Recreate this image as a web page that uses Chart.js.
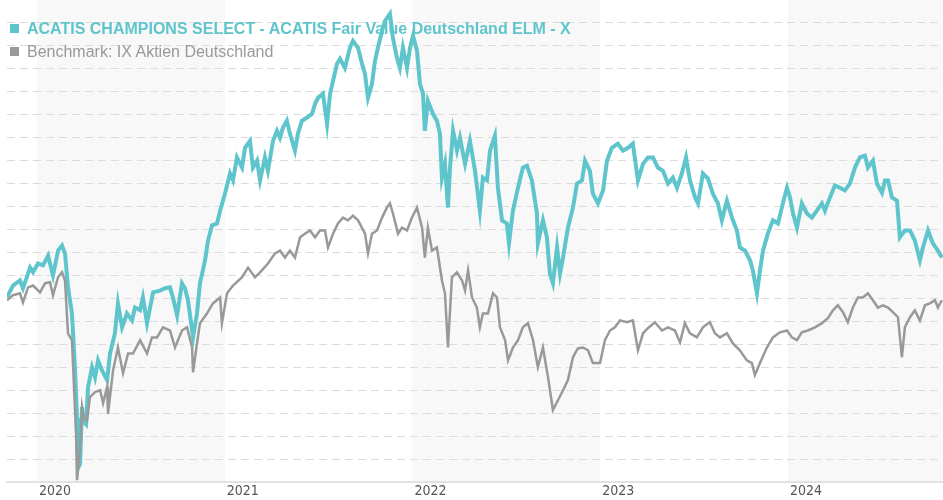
<!DOCTYPE html>
<html>
<head>
<meta charset="utf-8">
<title>ACATIS Fair Value Deutschland ELM - X</title>
<script src="https://cdn.jsdelivr.net/npm/chart.js@4.4.0/dist/chart.umd.min.js"></script>
<style>
  html, body { margin: 0; padding: 0; background: #fff; }
  #wrap { position: relative; width: 943px; height: 500px; }
  #legend { position: absolute; left: 0; top: 0; font-family: "Liberation Sans", Arial, sans-serif; font-size: 16px; line-height: 18px; pointer-events: none; }
  .item { position: absolute; left: 10px; white-space: nowrap; }
  .item .box { display: inline-block; width: 9px; height: 9px; margin-right: 8px; vertical-align: 1px; }
  .fund { top: 20px; color: #5ec5cc; font-weight: bold; }
  .fund .box { background: #5ec5cc; }
  .bench { top: 43px; color: #999; }
  .bench .box { background: #999; }
</style>
</head>
<body>
<div id="wrap">
  <canvas id="chart" width="943" height="500"></canvas>
  <div id="legend">
    <div class="item fund"><span class="box"></span>ACATIS CHAMPIONS SELECT - ACATIS Fair Value Deutschland ELM - X</div>
    <div class="item bench"><span class="box"></span>Benchmark: IX Aktien Deutschland</div>
  </div>
</div>
<script>
// values (time in fractional years, index level)
var fundYears = [2019.840, 2019.872, 2019.909, 2019.925, 2019.963, 2019.979, 2020.005, 2020.032, 2020.059, 2020.085,
  2020.112, 2020.133, 2020.149, 2020.165, 2020.186, 2020.202, 2020.213, 2020.218, 2020.229, 2020.240,
  2020.245, 2020.261, 2020.272, 2020.293, 2020.309, 2020.325, 2020.346, 2020.373, 2020.389, 2020.415,
  2020.431, 2020.453, 2020.479, 2020.506, 2020.522, 2020.549, 2020.564, 2020.586, 2020.618, 2020.655,
  2020.682, 2020.708, 2020.724, 2020.746, 2020.772, 2020.788, 2020.804, 2020.831, 2020.852, 2020.868,
  2020.895, 2020.911, 2020.932, 2020.959, 2020.975, 2021.001, 2021.028, 2021.044, 2021.065, 2021.092,
  2021.108, 2021.134, 2021.150, 2021.172, 2021.188, 2021.214, 2021.230, 2021.257, 2021.278, 2021.294,
  2021.310, 2021.331, 2021.347, 2021.374, 2021.390, 2021.411, 2021.438, 2021.465, 2021.481, 2021.497,
  2021.523, 2021.545, 2021.561, 2021.577, 2021.598, 2021.614, 2021.640, 2021.667, 2021.683, 2021.710,
  2021.731, 2021.747, 2021.763, 2021.784, 2021.800, 2021.816, 2021.838, 2021.853, 2021.880, 2021.896,
  2021.917, 2021.933, 2021.949, 2021.971, 2021.987, 2022.003, 2022.024, 2022.040, 2022.056, 2022.066,
  2022.082, 2022.109, 2022.130, 2022.146, 2022.157, 2022.173, 2022.189, 2022.200, 2022.216, 2022.237,
  2022.253, 2022.280, 2022.306, 2022.333, 2022.359, 2022.375, 2022.397, 2022.413, 2022.439, 2022.455,
  2022.477, 2022.503, 2022.514, 2022.535, 2022.562, 2022.588, 2022.610, 2022.636, 2022.663, 2022.668,
  2022.695, 2022.716, 2022.732, 2022.748, 2022.770, 2022.786, 2022.802, 2022.828, 2022.855, 2022.876,
  2022.903, 2022.919, 2022.945, 2022.961, 2022.988, 2023.015, 2023.036, 2023.062, 2023.094, 2023.121,
  2023.148, 2023.174, 2023.201, 2023.228, 2023.254, 2023.281, 2023.307, 2023.334, 2023.361, 2023.387,
  2023.409, 2023.435, 2023.457, 2023.478, 2023.505, 2023.521, 2023.547, 2023.574, 2023.600, 2023.627,
  2023.648, 2023.675, 2023.702, 2023.728, 2023.744, 2023.771, 2023.798, 2023.813, 2023.835, 2023.851,
  2023.867, 2023.893, 2023.920, 2023.947, 2023.973, 2023.995, 2024.011, 2024.027, 2024.048, 2024.074,
  2024.101, 2024.128, 2024.154, 2024.181, 2024.197, 2024.224, 2024.250, 2024.277, 2024.303, 2024.330,
  2024.357, 2024.383, 2024.410, 2024.426, 2024.453, 2024.474, 2024.501, 2024.517, 2024.533, 2024.554,
  2024.581, 2024.596, 2024.623, 2024.650, 2024.676, 2024.703, 2024.719, 2024.746, 2024.772, 2024.799,
  2024.820];
var fundValues = [100.2, 102.8, 103.9, 102.2, 106.7, 105.7, 107.6, 107.2, 109.3, 105.0,
  110.4, 111.5, 109.8, 102.4, 96.7, 85.0, 73.9, 63.0, 63.9, 76.3,
  73.3, 72.6, 80.7, 85.0, 82.8, 86.5, 84.3, 82.2, 88.0, 92.4,
  98.9, 93.7, 96.7, 95.2, 98.0, 97.4, 100.2, 94.6, 101.3, 101.7,
  102.2, 102.4, 100.2, 96.3, 103.3, 102.2, 99.6, 91.5, 96.7, 103.3,
  108.3, 112.6, 115.9, 116.3, 119.1, 122.8, 127.2, 125.7, 130.7, 128.5,
  132.8, 134.3, 128.5, 130.0, 125.7, 130.7, 127.8, 134.3, 136.5, 135.0,
  137.2, 138.7, 135.9, 132.2, 135.9, 138.7, 139.4, 140.2, 142.4, 143.7,
  144.6, 138.0, 144.6, 147.4, 151.1, 152.2, 150.2, 154.6, 156.1, 154.6,
  151.1, 148.9, 143.7, 146.7, 151.7, 154.6, 158.3, 160.4, 162.0, 156.7,
  152.4, 150.2, 154.6, 150.2, 154.6, 157.2, 153.9, 146.7, 144.6, 136.5,
  143.0, 140.2, 138.7, 135.9, 126.3, 129.3, 119.8, 128.5, 136.5, 132.2,
  135.0, 129.3, 134.3, 127.8, 119.1, 126.3, 125.7, 132.2, 135.4, 124.1,
  117.0, 116.3, 112.0, 119.1, 124.1, 128.5, 128.9, 125.7, 118.5, 112.0,
  117.0, 113.3, 105.4, 103.3, 111.1, 105.4, 108.9, 115.4, 119.8, 125.0,
  125.7, 130.0, 127.8, 122.8, 120.7, 123.5, 130.0, 132.8, 133.7, 132.2,
  132.8, 133.7, 125.7, 129.3, 130.7, 130.7, 128.5, 127.8, 125.0, 126.3,
  124.1, 127.2, 130.7, 125.7, 122.0, 120.7, 127.2, 126.1, 122.8, 120.7,
  117.0, 121.3, 117.6, 114.8, 111.1, 110.4, 108.3, 106.1, 101.1, 106.1,
  110.4, 114.1, 117.0, 116.3, 120.7, 124.1, 122.0, 118.5, 115.4, 120.7,
  118.5, 117.6, 119.1, 120.7, 119.1, 122.0, 124.6, 124.1, 123.5, 125.0,
  128.5, 130.7, 131.1, 128.5, 130.0, 125.0, 123.0, 125.7, 125.7, 122.0,
  121.3, 113.3, 114.8, 114.8, 112.6, 108.3, 111.1, 114.8, 112.0, 110.4,
  108.9];

var benchYears = [2019.840, 2019.872, 2019.909, 2019.925, 2019.952, 2019.979, 2020.016, 2020.043, 2020.069, 2020.085,
  2020.112, 2020.133, 2020.149, 2020.165, 2020.186, 2020.197, 2020.208, 2020.213, 2020.229, 2020.240,
  2020.250, 2020.266, 2020.282, 2020.309, 2020.336, 2020.352, 2020.373, 2020.378, 2020.405, 2020.431,
  2020.458, 2020.485, 2020.511, 2020.549, 2020.586, 2020.612, 2020.639, 2020.671, 2020.708, 2020.735,
  2020.772, 2020.799, 2020.826, 2020.831, 2020.852, 2020.868, 2020.905, 2020.937, 2020.975, 2020.985,
  2021.012, 2021.044, 2021.092, 2021.124, 2021.161, 2021.198, 2021.230, 2021.268, 2021.294, 2021.321,
  2021.347, 2021.374, 2021.401, 2021.427, 2021.454, 2021.481, 2021.507, 2021.534, 2021.550, 2021.577,
  2021.603, 2021.630, 2021.656, 2021.683, 2021.710, 2021.747, 2021.763, 2021.784, 2021.811, 2021.838,
  2021.864, 2021.880, 2021.896, 2021.923, 2021.944, 2021.971, 2021.997, 2022.024, 2022.051, 2022.066,
  2022.082, 2022.104, 2022.130, 2022.157, 2022.173, 2022.189, 2022.210, 2022.237, 2022.264, 2022.280,
  2022.296, 2022.317, 2022.343, 2022.359, 2022.375, 2022.402, 2022.429, 2022.450, 2022.466, 2022.493,
  2022.509, 2022.535, 2022.562, 2022.588, 2022.615, 2022.642, 2022.668, 2022.695, 2022.722, 2022.748,
  2022.775, 2022.802, 2022.828, 2022.855, 2022.881, 2022.908, 2022.935, 2022.961, 2022.999, 2023.025,
  2023.052, 2023.078, 2023.105, 2023.142, 2023.174, 2023.201, 2023.228, 2023.254, 2023.291, 2023.329,
  2023.361, 2023.398, 2023.425, 2023.451, 2023.478, 2023.515, 2023.547, 2023.584, 2023.611, 2023.638,
  2023.675, 2023.707, 2023.744, 2023.781, 2023.808, 2023.824, 2023.851, 2023.888, 2023.920, 2023.957,
  2023.995, 2024.021, 2024.048, 2024.074, 2024.106, 2024.144, 2024.181, 2024.213, 2024.240, 2024.266,
  2024.293, 2024.319, 2024.346, 2024.373, 2024.399, 2024.426, 2024.453, 2024.479, 2024.506, 2024.533,
  2024.559, 2024.586, 2024.607, 2024.623, 2024.650, 2024.676, 2024.703, 2024.730, 2024.756, 2024.783,
  2024.799, 2024.820];
var benchValues = [99.6, 100.7, 101.1, 99.1, 102.4, 102.8, 101.3, 103.3, 103.5, 100.7,
  104.6, 105.7, 103.9, 92.4, 90.9, 80.7, 70.4, 60.4, 67.4, 76.3,
  73.9, 73.3, 78.5, 79.6, 80.0, 77.2, 80.7, 74.8, 84.3, 89.3,
  83.7, 88.0, 88.0, 90.9, 88.0, 91.5, 91.5, 93.7, 93.0, 89.3,
  93.0, 93.7, 89.3, 83.9, 90.2, 94.6, 96.7, 98.9, 100.2, 94.6,
  101.1, 102.8, 104.6, 106.7, 104.6, 106.1, 107.6, 109.8, 110.4, 108.9,
  110.4, 108.9, 113.3, 114.1, 114.8, 113.3, 114.8, 114.8, 111.1, 114.1,
  116.3, 117.6, 117.0, 118.0, 117.0, 114.1, 109.8, 114.1, 114.8, 117.6,
  119.8, 120.7, 118.5, 114.1, 115.4, 114.8, 117.6, 119.8, 115.4, 108.9,
  115.4, 110.4, 111.1, 103.9, 101.1, 89.3, 104.6, 105.7, 103.9, 101.7,
  106.1, 100.2, 98.0, 93.7, 96.7, 96.7, 101.1, 100.2, 93.7, 90.9,
  86.5, 89.3, 90.9, 93.7, 94.6, 90.9, 85.0, 89.3, 82.8, 75.7,
  77.8, 80.0, 82.2, 87.2, 89.1, 89.3, 88.7, 85.9, 85.9, 90.9,
  93.0, 93.7, 95.2, 94.8, 95.2, 88.7, 92.4, 93.5, 94.8, 93.0,
  93.7, 93.0, 90.4, 94.6, 92.4, 91.5, 93.7, 94.8, 92.4, 91.5,
  92.4, 90.2, 88.7, 86.5, 85.9, 83.3, 85.9, 89.3, 91.5, 92.6,
  93.0, 91.5, 90.9, 92.6, 93.0, 93.7, 94.6, 95.7, 97.4, 98.5,
  97.0, 94.8, 98.0, 100.2, 100.2, 101.1, 99.6, 98.0, 98.5, 98.0,
  97.0, 95.9, 87.2, 93.7, 95.9, 97.4, 95.2, 98.5, 98.9, 99.6,
  98.0, 99.6];

var yearTicks = [2020, 2021, 2022, 2023, 2024];
var shadedYears = [2020, 2022, 2024];

function toPoints(xs, ys) {
  var pts = [];
  for (var i = 0; i < xs.length; i++) {
    pts.push({ x: xs[i], y: ys[i] });
  }
  return pts;
}

// alternating year bands behind the grid
var yearBands = {
  id: 'yearBands',
  beforeDraw: function (chart) {
    var ctx = chart.ctx;
    var area = chart.chartArea;
    var xs = chart.scales.x;
    ctx.save();
    ctx.fillStyle = '#f8f8f8';
    shadedYears.forEach(function (y) {
      var x1 = Math.max(area.left, xs.getPixelForValue(y));
      var x2 = Math.min(area.right, xs.getPixelForValue(y + 1));
      if (x2 > x1) ctx.fillRect(x1, area.top, x2 - x1, area.bottom - area.top);
    });
    ctx.restore();
  }
};

var ctx = document.getElementById('chart').getContext('2d');
var myChart = new Chart(ctx, {
  type: 'line',
  data: {
    datasets: [{
      label: 'ACATIS CHAMPIONS SELECT - ACATIS Fair Value Deutschland ELM - X',
      data: toPoints(fundYears, fundValues),
      borderColor: '#5ec5cc',
      borderWidth: 4,
      pointRadius: 0,
      tension: 0,
      order: 1
    }, {
      label: 'Benchmark: IX Aktien Deutschland',
      data: toPoints(benchYears, benchValues),
      borderColor: '#999999',
      borderWidth: 2.5,
      pointRadius: 0,
      tension: 0,
      order: 0
    }]
  },
  options: {
    responsive: false,
    animation: false,
    devicePixelRatio: 1,
    layout: { padding: { left: 7, right: 0, top: 0, bottom: 0 } },
    plugins: {
      legend: { display: false },
      tooltip: { enabled: false }
    },
    scales: {
      x: {
        type: 'linear',
        min: 2019.840,
        max: 2024.826,
        afterBuildTicks: function (scale) {
          scale.ticks = yearTicks.map(function (v) { return { value: v }; });
        },
        afterFit: function (scale) { scale.height = 18; },
        grid: { display: false, drawTicks: false },
        border: { display: true, color: '#e2e2e2', width: 2 },
        ticks: {
          align: 'start',
          labelOffset: 2,
          padding: 1,
          maxRotation: 0,
          autoSkip: false,
          color: '#555',
          font: { family: '"DejaVu Sans Condensed", "DejaVu Sans", sans-serif', size: 14 },
          callback: function (v) { return String(v); }
        }
      },
      y: {
        min: 60,
        max: 165,
        afterFit: function (scale) { scale.width = 0; },
        ticks: { display: false, stepSize: 5 },
        grid: {
          drawTicks: false,
          lineWidth: 1,
          color: function (c) {
            var v = c.tick ? c.tick.value : null;
            return (v === 60 || v === 165) ? 'rgba(0,0,0,0)' : '#dcdcdc';
          }
        },
        border: { display: false, dash: [8, 5] }
      }
    }
  },
  plugins: [yearBands]
});
</script>
</body>
</html>
